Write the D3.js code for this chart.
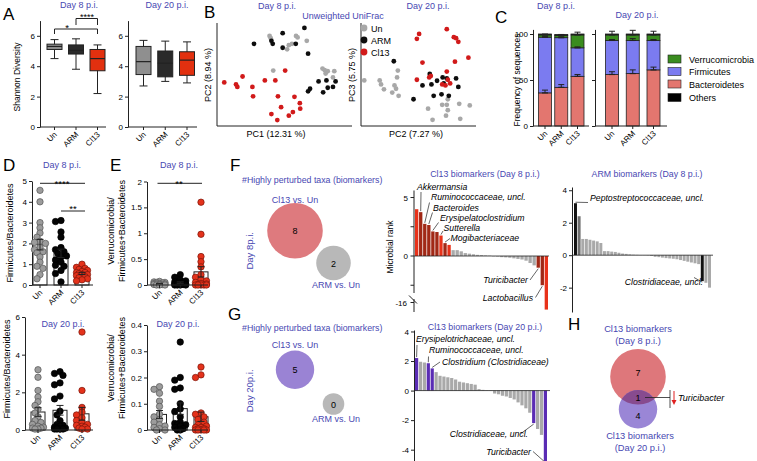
<!DOCTYPE html>
<html><head><meta charset="utf-8">
<script src="https://cdn.jsdelivr.net/npm/d3@7"></script>
<style>body{margin:0;background:#fff}svg{display:block}</style>
</head><body>
<svg id="chart" width="757" height="461"></svg>
<script>
// ---------------- DATA ----------------
const groups = ["Un", "ARM", "Cl13"];
// Shannon diversity box stats [min, q1, median, q3, max]
const shannonDay8 = [[4.5, 5.1, 5.3, 5.45, 5.75], [3.8, 4.8, 5.05, 5.4, 5.8], [2.2, 3.7, 4.5, 5.1, 5.4]];
const shannonDay20 = [[2.7, 3.45, 4.3, 5.3, 5.7], [3.0, 3.3, 4.2, 5.0, 5.65], [2.9, 3.4, 4.4, 4.95, 5.6]];
const shannonTicks = [0, 2, 4, 6];

// PCoA (unweighted UniFrac), scores scaled 0..1
const pcoaD8Un = [[0.386,0.89],[0.395,0.867],[0.588,0.89],[0.60,0.874],[0.557,0.81],[0.533,0.796],[0.52,0.754],[0.67,0.84],[0.414,0.54],[0.79,0.56],[0.807,0.544],[0.83,0.534],[0.88,0.534],[0.87,0.47],[0.814,0.51]];
const pcoaD8ARM = [[0.652,0.97],[0.486,0.917],[0.267,0.81],[0.40,0.84],[0.41,0.81],[0.486,0.77],[0.586,0.81],[0.68,0.71],[0.695,0.356],[0.68,0.33],[0.795,0.32],[0.83,0.366],[0.87,0.375],[0.89,0.43],[0.82,0.44],[0.76,0.43]];
const pcoaD8Cl13 = [[0.04,0.42],[0.13,0.40],[0.14,0.375],[0.18,0.48],[0.255,0.375],[0.26,0.28],[0.35,0.44],[0.43,0.44],[0.505,0.54],[0.45,0.28],[0.576,0.275],[0.617,0.21],[0.474,0.17],[0.40,0.10],[0.445,0.04],[0.533,0.084],[0.564,0.12],[0.62,0.155]];
const pcoaD20Un = [[0.02,0.44],[0.158,0.44],[0.17,0.40],[0.196,0.35],[0.32,0.54],[0.313,0.47],[0.29,0.39],[0.304,0.356],[0.27,0.317],[0.327,0.285],[0.59,0.155],[0.716,0.194],[0.757,0.194],[0.766,0.14],[0.75,0.084],[0.63,0.042],[0.868,0.204],[0.877,0.052],[0.962,0.188],[0.766,0.25]];
const pcoaD20ARM = [[0.284,0.634],[0.605,0.505],[0.67,0.437],[0.72,0.47],[0.757,0.46],[0.84,0.46],[0.54,0.39],[0.86,0.375],[0.71,0.30],[0.64,0.285],[0.775,0.285],[0.46,0.25],[0.73,0.41],[0.62,0.40]];
const pcoaD20Cl13 = [[0.757,0.958],[0.51,0.91],[0.49,0.86],[0.82,0.877],[0.84,0.867],[0.86,0.83],[0.95,0.67],[0.83,0.63],[0.54,0.62],[0.757,0.53],[0.614,0.485],[0.60,0.47],[0.49,0.447],[0.766,0.447],[0.716,0.40],[0.745,0.39],[0.787,0.41]];

// Phylum frequencies (%)
const phyla = ["Bacteroidetes", "Firmicutes", "Verrucomicrobia", "Others"];
const legendOrder = ["Verrucomicrobia", "Firmicutes", "Bacteroidetes", "Others"];
const bacteroidetesD8 = [36, 42, 54];
const firmicutesD8 = [60.5, 54, 31];
const verrucomicrobiaD8 = [2.5, 2.5, 14];
const othersD8 = [1, 1, 1];
const bacteroidetesD20 = [56, 57, 61];
const firmicutesD20 = [37, 36, 32];
const verrucomicrobiaD20 = [6, 6, 6];
const othersD20 = [1, 1, 1];
const semD8 = { Bacteroidetes: [3, 3, 2], Firmicutes: [1, 1, 1], Verrucomicrobia: [1, 1, 3] };
const semD20 = { Bacteroidetes: [3, 4, 3], Firmicutes: [1, 2, 1], Verrucomicrobia: [4, 5, 4] };
const freqTicks = [0, 50, 100];

// Firmicutes/Bacteroidetes ratios
const fbD8 = {
  Un: [4.55,4.0,3.0,2.75,2.5,2.3,2.1,2.05,2.0,1.8,1.7,1.6,1.55,1.35,1.1,0.9,0.8,0.5,0.3],
  ARM: [3.05,3.1,2.55,2.3,1.8,1.7,1.6,1.5,1.4,1.35,1.2,1.1,0.95,0.9,0.7,0.55,0.15],
  Cl13: [1.0,0.85,0.8,0.75,0.7,0.65,0.6,0.55,0.5,0.5,0.45,0.4,0.35,0.3,0.25,0.2,0.6]
};
const fbD20 = {
  Un: [3.2,2.8,2.1,1.75,1.5,1.3,1.1,0.9,0.7,0.5,0.4,0.3,0.2,0.15,0.1,0.05,0.05,0.1],
  ARM: [3.1,3.0,2.9,2.5,2.4,1.8,1.65,1.0,0.8,0.5,0.3,0.25,0.2,0.15,0.1,0.1,0.05,0.05,0.05,0.05],
  Cl13: [5.2,2.1,1.2,0.95,0.8,0.65,0.5,0.4,0.3,0.25,0.2,0.15,0.1,0.05,0.05]
};
// Verrucomicrobia/(Firmicutes+Bacteroidetes)
const vfbD8 = {
  Un: [0.07,0.06,0.05,0.05,0.04,0.03,0.02,0.02,0.01,0.01,0.0,0.0,0.0,0.01,0.03],
  ARM: [0.2,0.15,0.1,0.08,0.06,0.05,0.04,0.03,0.02,0.02,0.01,0.01,0.0,0.0,0.0,0.0,0.01],
  Cl13: [1.6,0.98,0.55,0.45,0.35,0.2,0.15,0.1,0.08,0.05,0.03,0.02,0.01,0.0,0.0,0.0,0.0,0.0]
};
const vfbD20 = {
  Un: [0.165,0.155,0.14,0.11,0.09,0.06,0.05,0.04,0.03,0.02,0.015,0.01,0.005,0.0,0.0],
  ARM: [0.335,0.2,0.19,0.16,0.155,0.1,0.08,0.07,0.05,0.03,0.025,0.02,0.02,0.015,0.01,0.005,0.0,0.0],
  Cl13: [0.24,0.21,0.2,0.065,0.06,0.05,0.04,0.03,0.02,0.015,0.01,0.005,0.0,0.0,0.0,0.0,0.005,0.01,0.0]
};

// Biomarker counts
const vennD8 = { "Cl13 vs. Un": 8, "ARM vs. Un": 2 };
const vennD20 = { "Cl13 vs. Un": 5, "ARM vs. Un": 0 };
const vennH = { day8Only: 7, shared: 1, day20Only: 4 };

// Microbial ranks
const rankCl13D8 = [4.0,3.75,2.75,2.65,2.1,2.05,1.75,1.1,0.95,0.5,0.5,0.4,0.25,0.2,0.15,0.1,0.08,0.05,0.03,-0.03,-0.05,-0.1,-0.12,-0.15,-0.2,-0.25,-0.3,-0.4,-0.6,-0.8,-1.0,-2.5,-17];
const classCl13D8 = ["hi","bm","bm","bm","bm","bm","hi","bm","hi"].concat(Array(21).fill("ns"), ["bm","bm","hi"]);
const rankARMD8 = [3.2,2.4,1.0,1.0,0.95,0.9,0.85,0.75,0.25,0.25,0.22,0.2,0.15,0.1,0.08,0.05,0.03,0.02,0.01,-0.01,-0.02,-0.05,-0.1,-0.12,-0.15,-0.18,-0.2,-0.22,-0.25,-0.3,-0.35,-0.4,-0.45,-0.5,-0.55,-1.6,-1.7,-2.0];
const rankCl13D20 = [2.2,1.95,1.9,1.85,1.5,1.25,1.0,0.95,0.9,0.85,0.75,0.6,0.55,0.5,0.45,0.4,0.1,0.05,0.02,-0.02,-0.2,-0.25,-0.35,-0.4,-0.5,-0.6,-0.8,-1.0,-1.2,-1.5,-2.2,-2.6,-3.0,-4.8];
const markedCl13D20 = [0, 3, 4, 30, 33];

// ---------------- DRAWING ----------------
const svg = d3.select("#chart");
svg.append("rect").attr("width", 757).attr("height", 461).attr("fill", "#fff");
const FONT = "'Liberation Sans', Arial, sans-serif";
const BLUE = "#4848b2";

function T(x, y, s, o = {}) {
  const t = svg.append("text").attr("x", x).attr("y", y).text(s)
    .attr("font-family", FONT).attr("font-size", o.size || 8.5)
    .attr("fill", o.fill || "#000").attr("text-anchor", o.anchor || "start");
  if (o.rot) t.attr("transform", `rotate(${o.rot},${x},${y})`);
  if (o.italic) t.attr("font-style", "italic");
  return t;
}
function L(x1, y1, x2, y2, o = {}) {
  return svg.append("line").attr("x1", x1).attr("y1", y1).attr("x2", x2).attr("y2", y2)
    .attr("stroke", o.stroke || "#222").attr("stroke-width", o.w || 1);
}
function yAxis(x, scale, ticks, labels = true) {
  const ax = d3.axisLeft(scale).tickValues(ticks).tickSize(3).tickSizeOuter(0).tickPadding(2)
    .tickFormat(labels ? (d => String(d)) : () => "");
  const g = svg.append("g").attr("transform", `translate(${x},0)`).call(ax);
  g.attr("font-family", FONT).attr("font-size", 8);
  g.selectAll("path,line").attr("stroke", "#222");
  return g;
}
function catAxis(x1, x2, y, xs) {
  L(x1, y, x2, y);
  groups.forEach(g => {
    const cx = xs(g);
    L(cx, y, cx, y + 3);
    T(cx + 3, y + 8, g, { anchor: "end", rot: -45, size: 8 });
  });
}
function letter(x, y, s) { T(x, y, s, { size: 17 }); }

// ===== Panel A =====
letter(3, 20, "A");
const yA = d3.scaleLinear().domain([0, 7]).range([127, 20.6]);
function boxPanel(axisX, axisEnd, xs, stats) {
  yAxis(axisX, yA, shannonTicks);
  catAxis(axisX, axisEnd, 127, xs);
  stats.forEach((s, i) => {
    const g = groups[i], cx = xs(g), w = 15;
    L(cx, yA(s[0]), cx, yA(s[4]));
    L(cx - 4, yA(s[0]), cx + 4, yA(s[0]));
    L(cx - 4, yA(s[4]), cx + 4, yA(s[4]));
    svg.append("rect").attr("x", cx - w / 2).attr("y", yA(s[3])).attr("width", w)
      .attr("height", yA(s[1]) - yA(s[3])).attr("fill", g === "ARM" ? "#2a2a2a" : g === "Un" ? "#8f8f8f" : "#e2300f")
      .attr("stroke", "#222");
    L(cx - w / 2, yA(s[2]), cx + w / 2, yA(s[2]), { w: 1.2 });
  });
}
const xA8 = d3.scalePoint().domain(groups).range([54.5, 97.5]);
const xA20 = d3.scalePoint().domain(groups).range([143.5, 187]);
boxPanel(40, 106, xA8, shannonDay8);
boxPanel(128, 197, xA20, shannonDay20);
T(79, 8, "Day 8 p.i.", { anchor: "middle", fill: BLUE, size: 9 });
T(167, 8, "Day 20 p.i.", { anchor: "middle", fill: BLUE, size: 9 });
T(20, 77, "Shannon Diversity", { anchor: "middle", rot: -90, size: 8.5 });
// significance
svg.append("path").attr("fill", "none").attr("stroke", "#222")
  .attr("d", `M${xA8("Un")},34V29H${xA8("Cl13")}V34`);
svg.append("path").attr("fill", "none").attr("stroke", "#222")
  .attr("d", `M${xA8("ARM")},25V18.5H${xA8("Cl13")}V25`);
T(67, 30.5, "*", { anchor: "middle", size: 9.5 });
T(87, 20, "****", { anchor: "middle", size: 9 });

// ===== Panel B =====
letter(204, 18, "B");
const yB = d3.scaleLinear().domain([0, 1]).range([124, 25]);
const xB8 = d3.scaleLinear().domain([0, 1]).range([219, 350]);
const xB20 = d3.scaleLinear().domain([0, 1]).range([362, 474]);
L(217, 23, 217, 126); L(217, 126, 352, 126);
L(361, 23, 361, 126); L(361, 126, 476, 126);
const PCOL = { Un: "#a8a8a8", ARM: "#0d0d0d", Cl13: "#d11a1a" };
function scatter(xs, sets) {
  sets.forEach(([pts, g]) => {
    svg.append("g").selectAll("circle").data(pts).join("circle")
      .attr("cx", d => xs(d[0])).attr("cy", d => yB(d[1])).attr("r", 2.4).attr("fill", PCOL[g]);
  });
}
scatter(xB8, [[pcoaD8Un, "Un"], [pcoaD8ARM, "ARM"], [pcoaD8Cl13, "Cl13"]]);
scatter(xB20, [[pcoaD20Un, "Un"], [pcoaD20ARM, "ARM"], [pcoaD20Cl13, "Cl13"]]);
T(277, 9, "Day 8 p.i.", { anchor: "middle", fill: BLUE, size: 9 });
T(428, 9, "Day 20 p.i.", { anchor: "middle", fill: BLUE, size: 9 });
T(343, 19, "Unweighted UniFrac", { anchor: "middle", fill: BLUE, size: 9 });
T(276, 137, "PC1 (12.31 %)", { anchor: "middle", size: 9 });
T(416, 137, "PC2 (7.27 %)", { anchor: "middle", size: 9 });
T(211, 75, "PC2 (8.94 %)", { anchor: "middle", rot: -90, size: 9 });
T(355, 75, "PC3 (5.75 %)", { anchor: "middle", rot: -90, size: 9 });
groups.forEach((g, i) => {
  svg.append("circle").attr("cx", 364).attr("cy", 28 + i * 12).attr("r", 3.4).attr("fill", PCOL[g]);
  T(371, 31.5 + i * 12, g, { size: 9 });
});

// ===== Panel C =====
letter(495, 23, "C");
const PHC = { Bacteroidetes: "#e3766f", Firmicutes: "#7b7bf0", Verrucomicrobia: "#3a8c1f", Others: "#000" };
const yC = d3.scaleLinear().domain([0, 105]).range([126, 29.4]);
function stackPanel(axisX, axisEnd, xs, vals, sem, labels) {
  yAxis(axisX, yC, freqTicks, labels);
  const rows = groups.map((g, i) => ({ g, Bacteroidetes: vals[0][i], Firmicutes: vals[1][i], Verrucomicrobia: vals[2][i], Others: vals[3][i] }));
  const st = d3.stack().keys(phyla)(rows);
  const w = 13;
  st.forEach(layer => {
    layer.forEach((d, i) => {
      const cx = xs(groups[i]);
      svg.append("rect").attr("x", cx - w / 2).attr("y", yC(d[1])).attr("width", w)
        .attr("height", Math.max(0, yC(d[0]) - yC(d[1]))).attr("fill", PHC[layer.key])
        .attr("stroke", "#222").attr("stroke-width", 0.8);
    });
  });
  st.forEach(layer => {
    if (!sem[layer.key]) return;
    layer.forEach((d, i) => {
      const cx = xs(groups[i]);
      const top = d[1], e = sem[layer.key][i];
      L(cx, yC(top), cx, yC(top + e));
      L(cx - 3, yC(top + e), cx + 3, yC(top + e));
      L(cx - 3, yC(top), cx + 3, yC(top), { w: 1.2 });
    });
  });
  catAxis(axisX, axisEnd, 126, xs);
}
const xC8 = d3.scalePoint().domain(groups).range([545, 577.5]);
const xC20 = d3.scalePoint().domain(groups).range([612, 653.5]);
stackPanel(533, 589, xC8, [bacteroidetesD8, firmicutesD8, verrucomicrobiaD8, othersD8], semD8, true);
stackPanel(595, 667, xC20, [bacteroidetesD20, firmicutesD20, verrucomicrobiaD20, othersD20], semD20, false);
T(556, 9, "Day 8 p.i.", { anchor: "middle", fill: BLUE, size: 9 });
T(637, 18, "Day 20 p.i.", { anchor: "middle", fill: BLUE, size: 9 });
T(520, 80, "Frequency of sequences", { anchor: "middle", rot: -90, size: 8.5 });
legendOrder.forEach((k, i) => {
  const y = 55 + i * 12.5 + (i === 3 ? 1 : 0);
  svg.append("rect").attr("x", 668).attr("y", y).attr("width", 13).attr("height", 8)
    .attr("fill", PHC[k]).attr("stroke", "#222").attr("stroke-width", 0.6);
  T(689, y + 7.5, k, { size: 9 });
});

// ===== Panels D & E =====
letter(3, 171, "D");
letter(110, 171, "E");
function dotPanel(axisX, axisEnd, axisY, yScale, ticks, xs, data) {
  yAxis(axisX, yScale, ticks);
  const w = 14, r = 3.2;
  groups.forEach(g => {
    const vals = data[g], cx = xs(g);
    const m = d3.mean(vals), se = d3.deviation(vals) / Math.sqrt(vals.length);
    svg.append("rect").attr("x", cx - w / 2).attr("y", yScale(m)).attr("width", w)
      .attr("height", yScale(0) - yScale(m)).attr("fill", "#fff").attr("stroke", "#222");
    // deterministic beeswarm placement
    const placed = [];
    const offs = [0, -3, 3, -5.5, 5.5];
    vals.slice().sort((a, b) => b - a).forEach(v => {
      const py = yScale(v);
      let best = 0, bestD = -1;
      for (const o of offs) {
        let dmin = Infinity;
        placed.forEach(p => { dmin = Math.min(dmin, Math.hypot(p[0] - o, p[1] - py)); });
        if (dmin >= 4.6) { best = o; bestD = Infinity; break; }
        if (dmin > bestD) { bestD = dmin; best = o; }
      }
      placed.push([best, py]);
    });
    svg.append("g").selectAll("circle").data(placed).join("circle")
      .attr("cx", p => cx + p[0]).attr("cy", p => p[1]).attr("r", r)
      .attr("fill", g === "Un" ? "#9c9c9c" : g === "ARM" ? "#050505" : "#e4321b")
      .attr("stroke", g === "Un" ? "#555" : g === "ARM" ? "#000" : "#7a160a").attr("stroke-width", 0.7);
    L(cx, yScale(m - se), cx, yScale(m + se));
    L(cx - 3.5, yScale(m + se), cx + 3.5, yScale(m + se));
    L(cx - 3.5, yScale(m - se), cx + 3.5, yScale(m - se));
  });
  catAxis(axisX, axisEnd, axisY, xs);
}
const yD8 = d3.scaleLinear().domain([0, 5]).range([285, 181]);
const yD20 = d3.scaleLinear().domain([0, 6]).range([430, 317]);
const yE8 = d3.scaleLinear().domain([0, 2]).range([285, 181.5]);
const yE20 = d3.scaleLinear().domain([0, 0.4]).range([430, 325]);
const xD8 = d3.scalePoint().domain(groups).range([40, 82]);
const xD20 = d3.scalePoint().domain(groups).range([38, 82]);
const xE = d3.scalePoint().domain(groups).range([159.5, 201]);
dotPanel(32, 93, 285, yD8, [0, 1, 2, 3, 4, 5], xD8, fbD8);
dotPanel(25, 93, 430, yD20, [0, 2, 4, 6], xD20, fbD20);
dotPanel(147, 208, 285, yE8, [0, 0.5, 1, 1.5, 2], xE, vfbD8);
dotPanel(147, 208, 430, yE20, [0, 0.1, 0.2, 0.3, 0.4], xE, vfbD20);
T(62, 168, "Day 8 p.i.", { anchor: "middle", fill: BLUE, size: 9 });
T(179, 168, "Day 8 p.i.", { anchor: "middle", fill: BLUE, size: 9 });
T(63, 327, "Day 20 p.i.", { anchor: "middle", fill: BLUE, size: 9 });
T(178, 327, "Day 20 p.i.", { anchor: "middle", fill: BLUE, size: 9 });
T(13, 233, "Firmicutes/Bacteroidetes", { anchor: "middle", rot: -90, size: 9 });
T(10, 369, "Firmicutes/Bacteroidetes", { anchor: "middle", rot: -90, size: 9 });
T(114, 231, "Verrucomicrobia/", { anchor: "middle", rot: -90, size: 9 });
T(125, 231, "Firmicutes+Bacteroidetes", { anchor: "middle", rot: -90, size: 9 });
T(114, 368, "Verrucomicrobia/", { anchor: "middle", rot: -90, size: 9 });
T(125, 368, "Firmicutes+Bacteroidetes", { anchor: "middle", rot: -90, size: 9 });
// significance D / E
L(xD8("Un"), 183.3, xD8("Cl13") + 3, 183.3);
T(62, 186.5, "****", { anchor: "middle", size: 9.5 });
L(xD8("ARM"), 211, xD8("Cl13") + 3, 211);
T(73, 212, "**", { anchor: "middle", size: 9.5 });
L(xE("Un") - 2, 183.3, xE("Cl13") + 1, 183.3);
T(179, 186.5, "**", { anchor: "middle", size: 9.5 });

// ===== Venn helpers =====
const rVenn = d3.scaleLinear().domain([0, 2, 5, 8]).range([10.8, 17.3, 19.2, 27.8]);
function vennBlock(headY, vcounts, bigColor, dayLabel, cy1, cy2, labY1, labY2) {
  T(242, headY, "#Highly perturbed taxa (biomarkers)", { fill: BLUE, size: 8.8 });
  T(253, (cy1 + cy2) / 2 + 4, dayLabel, { anchor: "middle", rot: -90, fill: BLUE, size: 9.5 });
  const n1 = vcounts["Cl13 vs. Un"], n2 = vcounts["ARM vs. Un"];
  svg.append("circle").attr("cx", 295).attr("cy", cy1).attr("r", rVenn(n1)).attr("fill", bigColor);
  svg.append("circle").attr("cx", 333.5).attr("cy", cy2).attr("r", rVenn(n2)).attr("fill", "#b8b8b8");
  T(295, cy1 + 3.5, String(n1), { anchor: "middle", size: 9 });
  T(333.5, cy2 + 3.5, String(n2), { anchor: "middle", size: 9 });
  T(295, labY1, "Cl13 vs. Un", { anchor: "middle", fill: BLUE, size: 9 });
  T(336, labY2, "ARM vs. Un", { anchor: "middle", fill: BLUE, size: 9 });
}

// ===== Panel F =====
letter(230, 171, "F");
vennBlock(183, vennD8, "#de7a7e", "Day 8p.i.", 230.7, 263, 203, 288);

const CLS = { hi: "#e8321a", bm: "#a12816", ns: "#a9a9a9" };
function barChart(x0, x1, yScale, vals, colorFn) {
  const xb = d3.scaleBand().domain(d3.range(vals.length)).range([x0, x1]).paddingInner(0.18);
  svg.append("g").selectAll("rect").data(vals).join("rect")
    .attr("x", (d, i) => xb(i)).attr("width", xb.bandwidth())
    .attr("y", d => d >= 0 ? yScale(d) : yScale(0))
    .attr("height", d => Math.abs(yScale(d) - yScale(0)))
    .attr("fill", (d, i) => colorFn(i));
  return xb;
}
// Cl13 Day 8 with broken axis
const yF8 = d3.scaleLinear().domain([-17.2, -16, -3.3, 0, 5.6]).range([311, 302.5, 294.6, 256, 190.5]);
const xF8 = barChart(415, 548, yF8, rankCl13D8, i => CLS[classCl13D8[i]]);
L(414, 256, 549, 256, { w: 0.8 });
L(414, 190.5, 414, 293); L(414, 299, 414, 312);
L(409, 295.5, 417, 303.5);
[5, 2.5, 0, -2.5].forEach(v => L(410.5, yF8(v), 414, yF8(v)));
L(410.5, yF8(-16), 414, yF8(-16));
T(408, yF8(5) + 3, "5", { anchor: "end", size: 8 });
T(408, yF8(0) + 3, "0", { anchor: "end", size: 8 });
T(407, yF8(-16) + 3, "-16", { anchor: "end", size: 8 });
T(393, 247, "Microbial rank", { anchor: "middle", rot: -90, size: 8.5 });
T(485, 176.5, "Cl13 biomarkers (Day 8 p.i.)", { anchor: "middle", fill: BLUE, size: 8.8 });
function barTop(xb, ys, vals, i) { return [xb(i) + xb.bandwidth() / 2, vals[i] >= 0 ? ys(vals[i]) - 1 : ys(vals[i]) + 1]; }
function annot(xb, ys, vals, i, tx, ty, from, label, anchor = "start") {
  const [bx, by] = barTop(xb, ys, vals, i);
  L(from[0], from[1], bx, by, { w: 0.7 });
  T(tx, ty, label, { italic: true, size: 8.7, anchor });
}
annot(xF8, yF8, rankCl13D8, 1, 417, 189.5, [421, 192], "Akkermansia");
annot(xF8, yF8, rankCl13D8, 2, 431, 200, [429.5, 202.5], "Ruminococcaceae, uncl.");
annot(xF8, yF8, rankCl13D8, 3, 433, 210.5, [432.5, 212.5], "Bacteroides");
annot(xF8, yF8, rankCl13D8, 4, 440, 220.5, [438.5, 222.5], "Erysipelatoclostridium");
annot(xF8, yF8, rankCl13D8, 6, 443.5, 230.5, [443, 231], "Sutterella");
annot(xF8, yF8, rankCl13D8, 7, 450.5, 240.5, [450, 238.5], "Mogibacteriaceae");
annot(xF8, yF8, rankCl13D8, 30, 528, 283, [530, 280], "Turicibacter", "end");
annot(xF8, yF8, rankCl13D8, 31, 533, 301, [535.5, 297.5], "Lactobacillus", "end");

// ARM Day 8
const yARM = d3.scaleLinear().domain([-3.5, 4.2]).range([312, 187]);
const xARM = barChart(574, 711, yARM, rankARMD8, i => i === 0 || i === 35 ? "#111" : i === 1 ? "#6f6f6f" : "#a9a9a9");
L(572, yARM(0), 713, yARM(0), { w: 0.8 });
yAxis(572, yARM, [4, 2, 0, -2]);
T(647, 176.5, "ARM biomarkers (Day 8 p.i.)", { anchor: "middle", fill: BLUE, size: 8.8 });
annot(xARM, yARM, rankARMD8, 0, 590, 200.5, [588, 202.5], "Peptostreptococcaceae, uncl.");
annot(xARM, yARM, rankARMD8, 35, 703, 285, [694, 277.5], "Clostridiaceae, uncl.", "end");

// ===== Panel G =====
letter(228, 320, "G");
vennBlock(331, vennD20, "#9a83d4", "Day 20p.i.", 369.7, 404, 347.5, 421.5);
const yG = d3.scaleLinear().domain([-4.8, 4.1]).range([461.5, 330]);
const PURPLE = "#5a2cb4";
const xG = barChart(415, 547, yG, rankCl13D20, i => markedCl13D20.includes(i) ? PURPLE : "#a9a9a9");
L(414, yG(0), 550, yG(0), { w: 0.8 });
yAxis(414, yG, [4, 2, 0, -2, -4]);
T(485, 330, "Cl13 biomarkers (Day 20 p.i.)", { anchor: "middle", fill: BLUE, size: 8.8 });
annot(xG, yG, rankCl13D20, 0, 416, 342, [417, 345], "Erysipelotrichaceae, uncl.");
annot(xG, yG, rankCl13D20, 3, 429, 353, [428.5, 356.5], "Ruminococcaceae, uncl.");
annot(xG, yG, rankCl13D20, 4, 442, 364.5, [440, 362], "Clostridium (Clostridiaceae)");
annot(xG, yG, rankCl13D20, 30, 528, 437, [521, 433.5], "Clostridiaceae, uncl.", "end");
annot(xG, yG, rankCl13D20, 33, 531, 455, [533, 451.5], "Turicibacter", "end");

// ===== Panel H =====
letter(568, 330, "H");
const r8 = rVenn(vennH.day8Only + vennH.shared), r20 = rVenn(vennH.day20Only + vennH.shared);
const cH = 638, cy8 = 376.7, cy20 = 409.3;
svg.append("circle").attr("cx", cH).attr("cy", cy8).attr("r", r8).attr("fill", "#de777b");
svg.append("circle").attr("cx", cH).attr("cy", cy20).attr("r", r20).attr("fill", "#9a86d6");
svg.append("clipPath").attr("id", "clip8").append("circle").attr("cx", cH).attr("cy", cy8).attr("r", r8);
svg.append("circle").attr("cx", cH).attr("cy", cy20).attr("r", r20).attr("fill", "#874b8f").attr("clip-path", "url(#clip8)");
T(cH, 376, String(vennH.day8Only), { anchor: "middle", size: 9 });
T(cH, 400.5, String(vennH.shared), { anchor: "middle", size: 9 });
T(cH, 419, String(vennH.day20Only), { anchor: "middle", size: 9 });
T(cH, 331.5, "Cl13 biomarkers", { anchor: "middle", fill: BLUE, size: 9.3 });
T(cH, 343.5, "(Day 8 p.i.)", { anchor: "middle", fill: BLUE, size: 9.3 });
T(cH + 2, 439, "Cl13 biomarkers", { anchor: "middle", fill: BLUE, size: 9.3 });
T(cH + 2, 450.5, "(Day 20 p.i.)", { anchor: "middle", fill: BLUE, size: 9.3 });
L(645, 397.5, 670, 397.5, { w: 0.8 });
L(670, 390, 670, 408, { w: 0.8 });
L(674, 391, 674, 401, { stroke: "#e02020", w: 1 });
svg.append("path").attr("d", "M671.5,400L676.5,400L674,405Z").attr("fill", "#e02020");
T(678, 400.5, "Turicibacter", { italic: true, size: 9 });
</script>
</body></html>
